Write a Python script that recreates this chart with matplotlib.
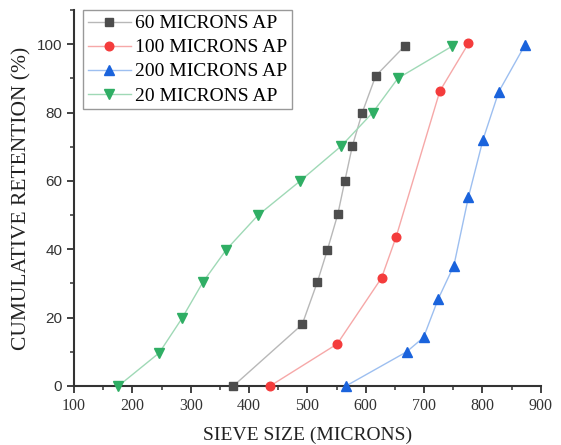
import matplotlib.pyplot as plt
from matplotlib.ticker import MultipleLocator

# ==========================================
# DATA
# ==========================================

size_60 = [373, 491, 517, 534, 552, 564, 577, 594, 617, 667]
ret_60 = [0, 18, 30.4, 39.7, 50.2, 59.9, 70.2, 80, 90.7, 99.5]

size_100 = [436, 551, 627, 652, 727, 776]
ret_100 = [0, 12.3, 31.6, 43.6, 86.3, 100.2]

size_200 = [566, 670, 699, 724, 751, 776, 801, 828, 873]
ret_200 = [0, 10, 14.2, 25.4, 35.2, 55.3, 72.1, 86.1, 99.8]

size_20 = [176, 246, 285, 321, 361, 415, 487, 558, 612, 655, 748]
ret_20 = [0, 9.7, 19.8, 30.4, 39.9, 49.9, 59.9, 70.2, 80, 90, 99.4]

labels = ["60 MICRONS AP", "100 MICRONS AP", "200 MICRONS AP", "20 MICRONS AP"]

# ==========================================
# PLOT
# ==========================================

plt.rcParams["font.family"] = ["Liberation Serif", "DejaVu Serif"]

fig = plt.figure(figsize=(5.61, 4.45), dpi=100)
ax = fig.add_axes([0.132, 0.1326, 0.832, 0.845])

series = [
    (size_60, ret_60, "s", "#4d4d4d", "#b8b8b8", 5.5),
    (size_100, ret_100, "o", "#f43c3c", "#f6a8a8", 6.2),
    (size_200, ret_200, "^", "#1a63dc", "#9dbff0", 7),
    (size_20, ret_20, "v", "#2fae64", "#9fd9b6", 7),
]

for (x, y, m, c, lc, ms), lab in zip(series, labels):
    ax.plot(x, y, color=lc, lw=1.0, marker=m, markersize=ms,
            markerfacecolor=c, markeredgecolor=c, label=lab, clip_on=False,
            zorder=3)

ax.set_xlim(100, 900)
ax.set_ylim(0, 110)
ax.xaxis.set_major_locator(MultipleLocator(100))
ax.xaxis.set_minor_locator(MultipleLocator(50))
ax.yaxis.set_major_locator(MultipleLocator(20))
ax.yaxis.set_minor_locator(MultipleLocator(10))

for side in ["top", "right"]:
    ax.spines[side].set_visible(False)
for side in ["left", "bottom"]:
    ax.spines[side].set_linewidth(1.5)
    ax.spines[side].set_color("#333333")

ax.tick_params(which="major", direction="out", length=5, width=1.3,
               color="#333333", labelcolor="#333333")
ax.tick_params(which="minor", direction="out", length=3, width=1.1,
               color="#333333")
ax.tick_params(axis="x", labelsize=11.5)
# y tick labels are sans-serif in the original
for t in ax.get_yticklabels():
    t.set_family(["Liberation Sans", "DejaVu Sans"])
    t.set_fontsize(11)

ax.set_xlabel("SIEVE SIZE (MICRONS)", fontsize=14, color="#222222",
              labelpad=9)
ax.set_ylabel("CUMULATIVE RETENTION (%)", fontsize=15.5, color="#222222",
              labelpad=4)

leg = ax.legend(loc="upper left", bbox_to_anchor=(0.019, 1.0),
                borderaxespad=0, fontsize=14, fancybox=False,
                edgecolor="#999999", framealpha=1, handlelength=2.2,
                handletextpad=0.25, labelspacing=0.33, borderpad=0.25)
leg.get_frame().set_linewidth(1.0)

fig.savefig("out.png", dpi=100)
